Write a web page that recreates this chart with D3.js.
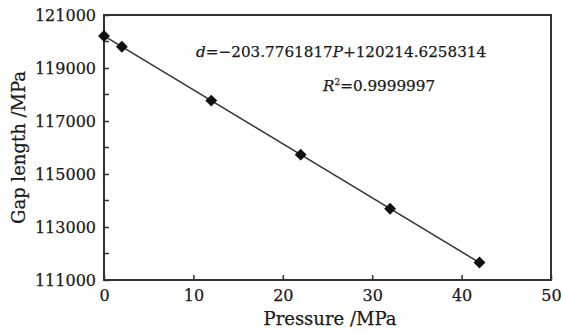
<!DOCTYPE html>
<html>
<head>
<meta charset="utf-8">
<script src="https://cdn.jsdelivr.net/npm/d3@7"></script>
<style>
  body { margin: 0; background: #fff; }
  text { font-family: "DejaVu Serif", serif; fill: #1a1a1a; stroke: #1a1a1a; stroke-width: 0.25px; }
</style>
</head>
<body>
<svg id="chart" width="563" height="333"></svg>
<script>
// data
const pressure = [0, 2, 12, 22, 32, 42];
const gapLength = [120210, 119800, 117770, 115730, 113690, 111660];
const xTicks = [0, 10, 20, 30, 40, 50];
const yTicks = [111000, 113000, 115000, 117000, 119000, 121000];
const yMinorTicks = [112000, 114000, 116000, 118000, 120000];
const slope = -203.7761817;
const intercept = 120214.6258314;

const margin = { top: 15, right: 12, bottom: 53, left: 104 };
const width = 563 - margin.left - margin.right;
const height = 333 - margin.top - margin.bottom;

const svg = d3.select("#chart")
  .append("g")
  .attr("transform", `translate(${margin.left},${margin.top})`);

const x = d3.scaleLinear().domain([0, 50]).range([0, width]);
const y = d3.scaleLinear().domain([111000, 121000]).range([height, 0]);

// frame
svg.append("rect")
  .attr("width", width)
  .attr("height", height)
  .attr("fill", "none")
  .attr("stroke", "#333")
  .attr("stroke-width", 2);

// x axis, ticks inward
const xAxis = svg.append("g")
  .attr("transform", `translate(0,${height})`)
  .call(d3.axisBottom(x).tickValues(xTicks).tickSizeInner(-5).tickSizeOuter(0).tickPadding(10));
xAxis.select(".domain").remove();
xAxis.selectAll("line").attr("stroke", "#333").attr("stroke-width", 1.5);
xAxis.selectAll("text").attr("font-size", 16).attr("font-family", "DejaVu Serif").attr("fill", "#1a1a1a");

// y axis
const yAxis = svg.append("g")
  .call(d3.axisLeft(y).tickValues(yTicks).tickFormat(d3.format("d")).tickSizeInner(-5).tickSizeOuter(0).tickPadding(8));
yAxis.select(".domain").remove();
yAxis.selectAll("line").attr("stroke", "#333").attr("stroke-width", 1.5);
yAxis.selectAll("text").attr("font-size", 16).attr("font-family", "DejaVu Serif").attr("fill", "#1a1a1a");

svg.append("g")
  .selectAll("line")
  .data(yMinorTicks)
  .join("line")
  .attr("x1", 0)
  .attr("x2", 5)
  .attr("y1", (d) => y(d))
  .attr("y2", (d) => y(d))
  .attr("stroke", "#333")
  .attr("stroke-width", 1.5);

// fit line
const fitX = [0, 42];
svg.append("path")
  .datum(fitX)
  .attr("fill", "none")
  .attr("stroke", "#333")
  .attr("stroke-width", 1.5)
  .attr("d", d3.line().x((d) => x(d)).y((d) => y(slope * d + intercept)));

// markers
svg.append("g")
  .selectAll("path")
  .data(pressure.map((p, i) => [p, gapLength[i]]))
  .join("path")
  .attr("transform", (d) => `translate(${x(d[0])},${y(d[1])})`)
  .attr("d", d3.symbol(d3.symbolDiamond2, 90))
  .attr("fill", "#111");

// equation text
const eq = svg.append("text")
  .attr("x", x(10.3))
  .attr("y", 42)
  .attr("font-size", 15.2);
eq.append("tspan").attr("font-style", "italic").text("d");
eq.append("tspan").text("=\u2212203.7761817");
eq.append("tspan").attr("font-style", "italic").text("P");
eq.append("tspan").text("+120214.6258314");

const r2 = svg.append("text")
  .attr("x", x(24.5))
  .attr("y", 76)
  .attr("font-size", 15.2);
r2.append("tspan").attr("font-style", "italic").text("R");
r2.append("tspan").attr("font-size", 9).attr("dy", -6).text("2");
r2.append("tspan").attr("dy", 6).text("=0.9999997");

// axis titles
svg.append("text")
  .attr("x", 226)
  .attr("y", height + 45)
  .attr("text-anchor", "middle")
  .attr("font-size", 18)
  .text("Pressure /MPa");

svg.append("text")
  .attr("transform", `translate(${-79},${height / 2}) rotate(-90)`)
  .attr("text-anchor", "middle")
  .attr("font-size", 18)
  .text("Gap length /MPa");
</script>
</body>
</html>
